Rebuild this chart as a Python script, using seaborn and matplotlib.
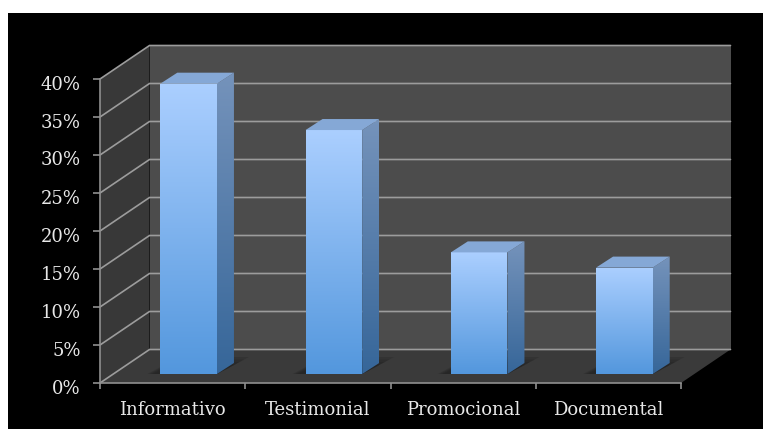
import numpy as np
import pandas as pd
import matplotlib
matplotlib.use("Agg")
import matplotlib.pyplot as plt
from matplotlib.colors import LinearSegmentedColormap
from matplotlib.patches import Polygon, Rectangle
from matplotlib.transforms import ScaledTranslation
import seaborn as sns

categories = ["Informativo", "Testimonial", "Promocional", "Documental"]
values = [38.2, 32.1, 16.0, 14.0]
yticks = [0, 5, 10, 15, 20, 25, 30, 35, 40]

W, H = 763, 429
sns.set_theme(style="white")
plt.rcParams["font.family"] = ["DejaVu Serif", "Liberation Serif"]
fig = plt.figure(figsize=(W / 100, H / 100), dpi=100, facecolor="white")

def axes_px(l, t, r, b, **kw):
    return fig.add_axes([l / W, 1 - b / H, (r - l) / W, (b - t) / H], **kw)

# black slide background
fig.add_artist(Rectangle((8 / W, 0), 1 - 8 / W, 1 - 13 / H, transform=fig.transFigure,
                         facecolor="black", edgecolor="none", zorder=-10))

# front plane of the 3D box
L, R, T, B = 100, 681, 79, 383
ax = axes_px(L, T, R, B)
ax.patch.set_alpha(0)
ax.set_xlim(-0.5, 3.5)
ax.set_ylim(0, 40)
px_x = (R - L) / 4
px_y = (B - T) / 40
dx, dy = 49.5 / px_x, 33.5 / px_y

WALL, SIDE, FLOOR, GRID, AXC, TXT = "#4c4c4c", "#383838", "#3a3a3a", "#9c9c9c", "#8f8f8f", "#e8e8e8"
x0, x1 = -0.5, 3.5
ax.add_patch(Polygon([(x0 + dx, dy), (x1 + dx, dy), (x1 + dx, 40 + dy), (x0 + dx, 40 + dy)],
                     fc=WALL, ec="none", clip_on=False, zorder=1))
ax.add_patch(Polygon([(x0, 0), (x0 + dx, dy), (x0 + dx, 40 + dy), (x0, 40)],
                     fc=SIDE, ec="none", clip_on=False, zorder=1))
ax.add_patch(Polygon([(x0, 0), (x1, 0), (x1 + dx, dy), (x0 + dx, dy)],
                     fc=FLOOR, ec="none", clip_on=False, zorder=1))
for v in yticks:
    ax.plot([x0, x0 + dx, x1 + dx], [v, v + dy, v + dy], color=GRID, lw=1.2,
            clip_on=False, zorder=2, solid_joinstyle="miter")

ax.set_yticks(yticks)
ax.set_yticklabels([f"{v}%" for v in yticks], color=TXT, fontsize=13)
ax.set_xticks(np.arange(-0.5, 4, 1))
ax.set_xticklabels([])
ax.set_xticks(range(4), minor=True)
ax.set_xticklabels(categories, minor=True, color=TXT, fontsize=13)
ax.tick_params(axis="y", which="major", left=True, length=5, width=1.2, color=AXC, pad=9)
ax.tick_params(axis="x", which="major", bottom=True, length=4.5, width=1.2, color=AXC)
ax.tick_params(axis="x", which="minor", bottom=False, length=0, pad=13)
shift_down = ScaledTranslation(0, -3.5 / 100, fig.dpi_scale_trans)
for lab in ax.get_yticklabels():
    lab.set_transform(lab.get_transform() + shift_down)
for s in ("top", "right"):
    ax.spines[s].set_visible(False)
for s in ("left", "bottom"):
    ax.spines[s].set_color(AXC)
    ax.spines[s].set_linewidth(1.2)

# bars live on a plane pushed back into the box
SHIFT_X, SHIFT_Y = 16, 9
bx = axes_px(L + SHIFT_X, T - SHIFT_Y, R + SHIFT_X, B - SHIFT_Y)
bx.patch.set_alpha(0)
df = pd.DataFrame({"cat": categories, "val": values})
sns.barplot(data=df, x="cat", y="val", ax=bx, color="#5496dc", width=0.39, saturation=1,
            zorder=3, linewidth=0)
bx.set_xlim(-0.5, 3.5)
bx.set_ylim(0, 40)
bx.axis("off")

def grad(verts, top, bottom, z=4):
    c = LinearSegmentedColormap.from_list("g", [bottom, top])
    xs, ys = zip(*verts)
    im = bx.imshow(np.linspace(1, 0, 256)[:, None], cmap=c, aspect="auto", vmin=0, vmax=1,
                   extent=(min(xs), max(xs), min(ys), max(ys)), zorder=z, interpolation="bilinear")
    p = Polygon(verts, transform=bx.transData, fc="none", ec="none")
    bx.add_patch(p)
    im.set_clip_path(p)
    im.set_clip_on(True)

ddx, ddy = 17 / px_x, 11 / px_y
for bar in list(bx.patches):
    l, r = bar.get_x(), bar.get_x() + bar.get_width()
    h = bar.get_height()
    # soft floor shadow
    for k, a in zip((1.0, 0.85, 0.7, 0.55), (0.3, 0.35, 0.4, 0.45)):
        sx, sy = 13 / px_x * k, 17 / px_y * k
        ex = 32 / px_x * k
        bx.add_patch(Polygon([(l - sx, 0), (r, 0), (r + ex, sy), (l - sx + ex, sy)], fc="#242424",
                             ec="none", alpha=a, zorder=2.5, clip_on=False))
    grad([(l, h), (r, h), (r, 0), (l, 0)], "#abcfff", "#5397dd")
    grad([(r, 0), (r + ddx, ddy), (r + ddx, h + ddy), (r, h)], "#7593bb", "#366699")
    bx.add_patch(Polygon([(l, h), (r, h), (r + ddx, h + ddy), (l + ddx, h + ddy)],
                         fc="#85a8d6", ec="none", zorder=4))
bx.set_xlim(-0.5, 3.5)
bx.set_ylim(0, 40)

fig.savefig("out.png", dpi=100, facecolor="white")
